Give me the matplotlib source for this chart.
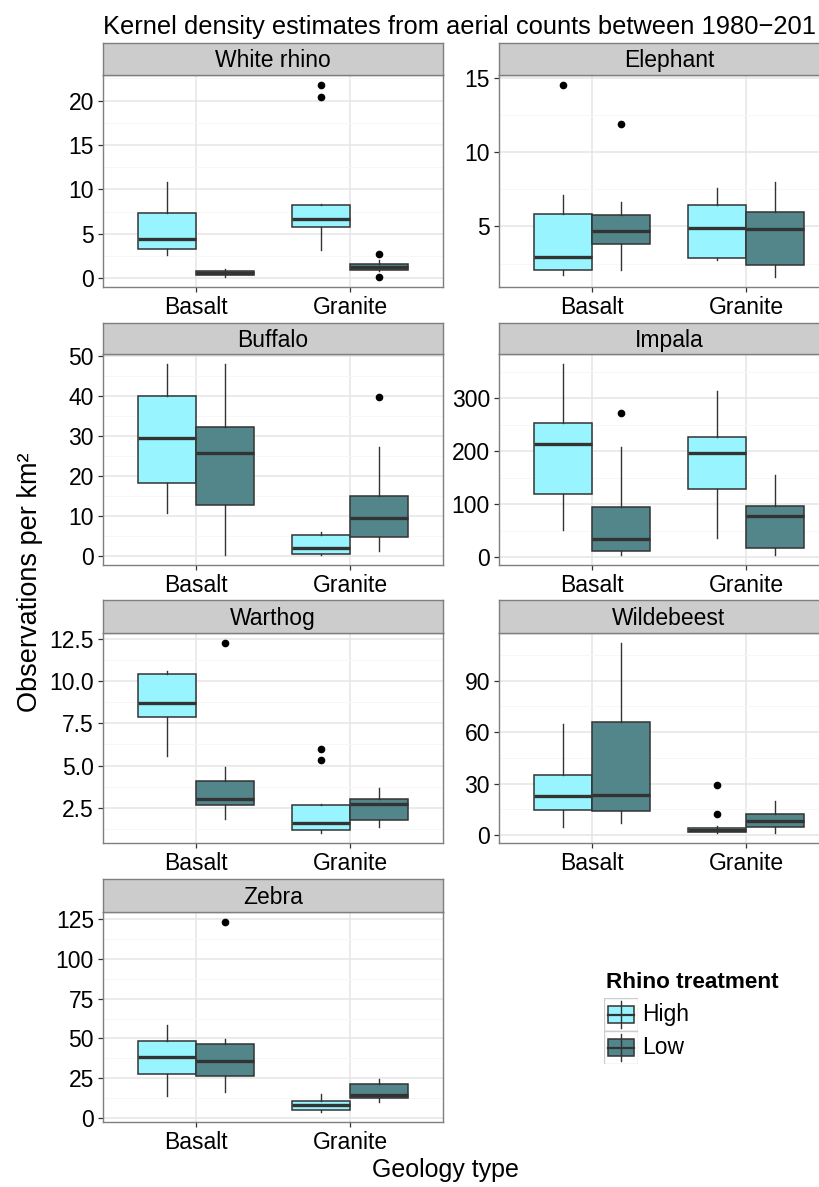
import numpy as np
import matplotlib.pyplot as plt
from matplotlib.patches import Rectangle

plt.rcParams['font.family'] = ['Liberation Sans', 'DejaVu Sans']

W, H = 819, 1187

species = ["White rhino", "Elephant", "Buffalo", "Impala", "Warthog", "Wildebeest", "Zebra"]
geology = ["Basalt", "Granite"]
treatment = ["High", "Low"]

# columns: Basalt-High, Basalt-Low, Granite-High, Granite-Low
whisker_lo = [[2.68, 0.19, 3.21, 0.80],
              [1.73, 2.04, 2.72, 1.57],
              [10.96, 0.4, 0.25, 1.33],
              [52.6, 5.1, 37.3, 3.8],
              [5.58, 1.83, 0.98, 1.39],
              [4.6, 7.0, 1.0, 1.2],
              [13.3, 16.0, 3.2, 9.5]]
q1 = [[3.25, 0.38, 5.82, 0.99],
      [2.04, 3.83, 2.90, 2.38],
      [18.4, 12.8, 0.58, 4.77],
      [119, 11.4, 128.5, 17.1],
      [7.88, 2.66, 1.16, 1.77],
      [14.9, 13.8, 1.7, 4.6],
      [27.2, 26.3, 4.8, 12.2]]
median = [[4.38, 0.62, 6.72, 1.25],
          [2.95, 4.68, 4.91, 4.84],
          [29.7, 25.8, 2.0, 9.7],
          [214.5, 34.8, 197.4, 77.8],
          [8.70, 3.03, 1.61, 2.72],
          [23.0, 23.6, 3.1, 8.0],
          [38.0, 35.5, 7.8, 14.1]]
q3 = [[7.33, 0.84, 8.27, 1.59],
      [5.83, 5.74, 6.44, 5.99],
      [40.0, 32.3, 5.3, 15.0],
      [253, 94.3, 227.2, 96.8],
      [10.41, 4.06, 2.64, 3.03],
      [35.2, 65.8, 4.3, 12.6],
      [48.3, 46.4, 10.5, 21.3]]
whisker_hi = [[10.8, 1.06, 8.42, 2.12],
              [7.15, 6.62, 7.59, 7.96],
              [48.2, 48.2, 6.2, 27.3],
              [365.8, 208, 313.9, 155.7],
              [10.62, 4.91, 2.70, 3.66],
              [64.9, 112.1, 5.2, 20.0],
              [58.5, 49.4, 14.6, 24.5]]
outliers = [[[], [], [21.8, 20.4], [2.72, 0.11]],
            [[14.55], [11.89], [], []],
            [[], [], [], [39.8]],
            [[], [272.8], [], []],
            [[], [12.28], [5.95, 5.30], []],
            [[], [], [29.4, 12.6], []],
            [[], [123.7], [], []]]
y_ticks = [[0, 5, 10, 15, 20],
           [5, 10, 15],
           [0, 10, 20, 30, 40, 50],
           [0, 100, 200, 300],
           [2.5, 5.0, 7.5, 10.0, 12.5],
           [0, 30, 60, 90],
           [0, 25, 50, 75, 100, 125]]

fill_colors = {"High": "#98F5FF", "Low": "#53868B"}
line_col = "#333333"
border_col = "#7F7F7F"

col_x = [(103, 443), (499, 839)]
rows = [(43, 75, 287), (323, 354, 565), (600, 633, 843), (879, 912, 1122)]


def px_rect(x0, y0, x1, y1):
    return [x0 / W, 1 - y1 / H, (x1 - x0) / W, (y1 - y0) / H]


fig = plt.figure(figsize=(W / 100, H / 100), dpi=100)

for i, name in enumerate(species):
    r, c = divmod(i, 2)
    x0, x1 = col_x[c]
    s_top, p_top, p_bot = rows[r]

    ax = fig.add_axes(px_rect(x0, p_top, x1, p_bot))
    ax.set_facecolor("white")

    stats = []
    positions = []
    colors = []
    for g in range(2):
        for t in range(2):
            k = g * 2 + t
            stats.append(dict(med=median[i][k], q1=q1[i][k], q3=q3[i][k],
                              whislo=whisker_lo[i][k], whishi=whisker_hi[i][k],
                              fliers=outliers[i][k]))
            positions.append(g + 1 + (t - 0.5) * 0.375)
            colors.append(fill_colors[treatment[t]])

    bp = ax.bxp(stats, positions=positions, widths=0.375, patch_artist=True,
                showcaps=False, manage_ticks=False,
                boxprops=dict(edgecolor=line_col, linewidth=1.1),
                whiskerprops=dict(color=line_col, linewidth=1.0),
                medianprops=dict(color=line_col, linewidth=2.4),
                flierprops=dict(marker='o', markersize=4.5, markerfacecolor='black',
                                markeredgecolor='black', linestyle='none'),
                zorder=3)
    for patch, col in zip(bp['boxes'], colors):
        patch.set_facecolor(col)

    # limits with ggplot-style 5% expansion
    all_vals = whisker_lo[i] + whisker_hi[i] + [v for o in outliers[i] for v in o]
    lo, hi = min(all_vals), max(all_vals)
    pad = (hi - lo) * 0.05
    ax.set_ylim(lo - pad, hi + pad)
    ax.set_xlim(0.4, 2.6)

    ticks = y_ticks[i]
    step = ticks[1] - ticks[0]
    ax.set_yticks(ticks)
    if any(float(t) != int(t) for t in ticks):
        ax.set_yticklabels([f"{t:.1f}" for t in ticks])
    else:
        ax.set_yticklabels([f"{int(t)}" for t in ticks])
    minor = np.arange(ticks[0] - step / 2, ticks[-1] + step, step)
    minor = [m for m in minor if lo - pad <= m <= hi + pad]
    ax.set_yticks(minor, minor=True)
    ax.set_xticks([1, 2])
    ax.set_xticklabels(geology)

    ax.grid(True, which='major', color="#E5E5E5", linewidth=1.1, zorder=0)
    ax.grid(True, which='minor', axis='y', color="#F7F7F7", linewidth=0.7, zorder=0)
    ax.set_axisbelow(True)
    ax.tick_params(axis='both', which='major', labelsize=16.5, length=3.5,
                   width=0.9, color=line_col, labelcolor='black', pad=3)
    ax.tick_params(axis='y', which='minor', length=0)
    for sp in ax.spines.values():
        sp.set_color(border_col)
        sp.set_linewidth(1.0)

    # facet strip
    sax = fig.add_axes(px_rect(x0, s_top, x1, p_top))
    sax.set_facecolor("#CCCCCC")
    sax.set_xticks([])
    sax.set_yticks([])
    for sp in sax.spines.values():
        sp.set_color(border_col)
        sp.set_linewidth(1.0)
    sax.text(0.5, 0.45, name, ha='center', va='center', fontsize=16.5,
             transform=sax.transAxes)

# title and axis titles
fig.text(103 / W, 1 - 27 / H, "Kernel density estimates from aerial counts between 1980\u2212201",
         ha='left', va='center', fontsize=18.4)
fig.text(30 / W, 1 - 582 / H, "Observations per km²", rotation=90,
         ha='center', va='center', fontsize=19.5)
fig.text(445 / W, 1 - 1170 / H, "Geology type", ha='center', va='center', fontsize=18)

# legend
fig.text(606 / W, 1 - 983 / H, "Rhino treatment", ha='left', va='center',
         fontsize=16.2, fontweight='bold')
lax = fig.add_axes(px_rect(604, 998, 638, 1064))
lax.set_xlim(0, 1)
lax.set_ylim(2, 0)
lax.axis('off')
for k, t in enumerate(treatment):
    lax.add_patch(Rectangle((0, k), 1, 1, facecolor='white', edgecolor='#CCCCCC', linewidth=1.0))
    lax.plot([0.5, 0.5], [k + 0.1, k + 0.9], color=line_col, linewidth=1.0)
    lax.add_patch(Rectangle((0.12, k + 0.25), 0.76, 0.5, facecolor=fill_colors[t],
                            edgecolor=line_col, linewidth=1.1))
    lax.plot([0.12, 0.88], [k + 0.5, k + 0.5], color=line_col, linewidth=1.6)
    fig.text(642 / W, 1 - (1014 + 33 * k) / H, t, ha='left', va='center', fontsize=16.5)

fig.savefig("out.png", dpi=100)
